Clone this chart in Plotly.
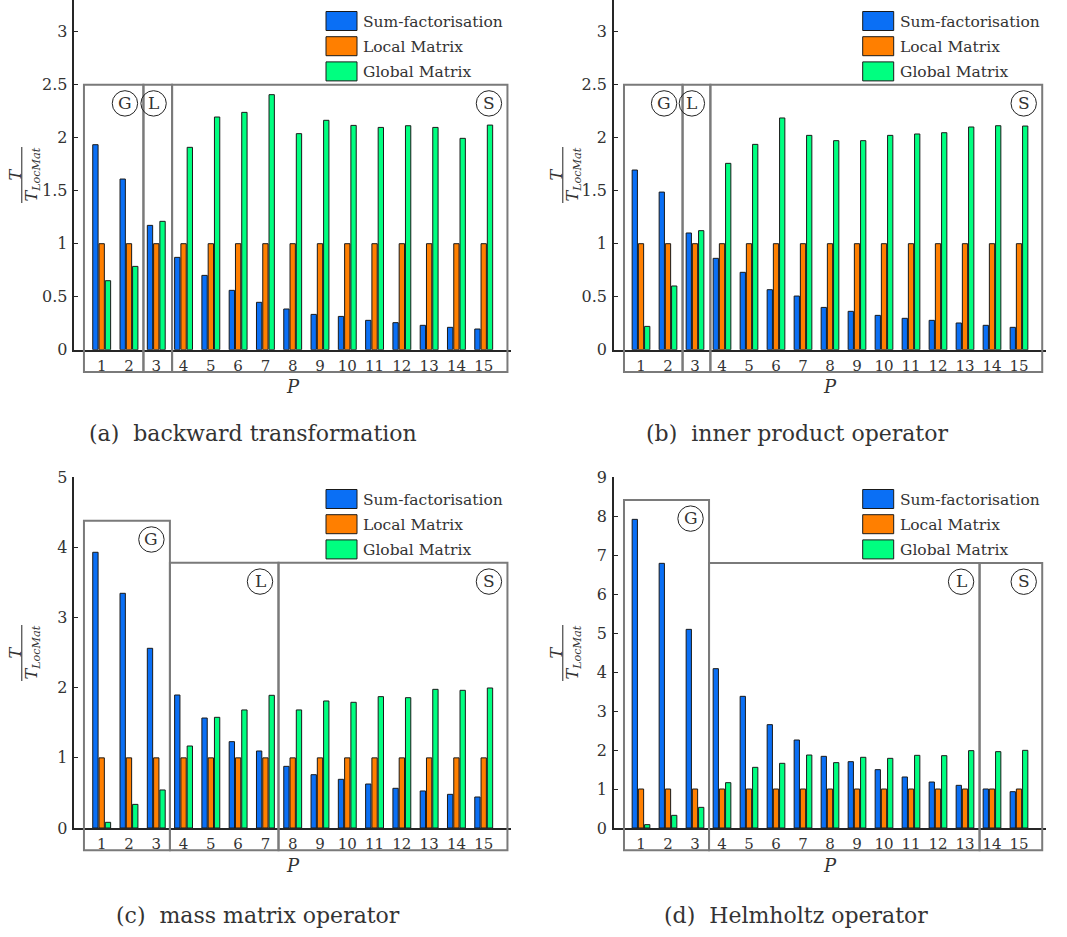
import plotly.graph_objects as go

W, H = 1067, 937

# ---------------- data ----------------
P = list(range(1, 16))
series_names = ["Sum-factorisation", "Local Matrix", "Global Matrix"]

a_sum = [1.934, 1.610, 1.173, 0.871, 0.701, 0.560, 0.447, 0.384, 0.333, 0.314, 0.277, 0.255, 0.230, 0.211, 0.195]
a_loc = [1, 1, 1, 1, 1, 1, 1, 1, 1, 1, 1, 1, 1, 1, 1]
a_glob = [0.651, 0.786, 1.211, 1.909, 2.195, 2.239, 2.406, 2.038, 2.164, 2.116, 2.097, 2.113, 2.097, 1.994, 2.119]

b_sum = [1.695, 1.487, 1.101, 0.862, 0.730, 0.566, 0.506, 0.399, 0.362, 0.324, 0.296, 0.277, 0.252, 0.230, 0.211]
b_loc = [1, 1, 1, 1, 1, 1, 1, 1, 1, 1, 1, 1, 1, 1, 1]
b_glob = [0.220, 0.601, 1.123, 1.758, 1.937, 2.186, 2.022, 1.972, 1.972, 2.022, 2.035, 2.047, 2.101, 2.113, 2.110]

c_sum = [3.931, 3.346, 2.562, 1.896, 1.568, 1.231, 1.098, 0.879, 0.760, 0.694, 0.627, 0.566, 0.528, 0.480, 0.442]
c_loc = [1, 1, 1, 1, 1, 1, 1, 1, 1, 1, 1, 1, 1, 1, 1]
c_glob = [0.081, 0.337, 0.542, 1.169, 1.578, 1.683, 1.892, 1.683, 1.811, 1.792, 1.873, 1.858, 1.977, 1.963, 1.996]

d_sum = [7.921, 6.792, 5.098, 4.089, 3.379, 2.652, 2.258, 1.839, 1.702, 1.497, 1.309, 1.180, 1.095, 1.001, 0.932]
d_loc = [1, 1, 1, 1, 1, 1, 1, 1, 1, 1, 1, 1, 1, 1, 1]
d_glob = [0.086, 0.325, 0.530, 1.163, 1.557, 1.660, 1.873, 1.677, 1.814, 1.788, 1.865, 1.856, 1.985, 1.959, 1.993]

captions = ["(a)  backward transformation", "(b)  inner product operator",
            "(c)  mass matrix operator", "(d)  Helmholtz operator"]

# region groups: (label, left edge, right edge, top value) in axis units
a_groups = [("G", 0.35, 2.53, 2.5), ("L", 2.53, 3.58, 2.5), ("S", 3.58, 15.87, 2.5)]
b_groups = [("G", 0.37, 2.54, 2.5), ("L", 2.54, 3.57, 2.5), ("S", 3.57, 15.86, 2.5)]
c_groups = [("G", 0.35, 3.50, 4.38), ("L", 3.50, 7.48, 3.78), ("S", 7.48, 15.87, 3.78)]
d_groups = [("G", 0.37, 3.52, 8.42), ("L", 3.52, 13.54, 6.80), ("S", 13.54, 15.86, 6.80)]

# ---------------- style ----------------
colors = ["#0a6ff5", "#ff7f00", "#00ff80"]
FONT = "DejaVu Serif"
TXT = "#333333"
BOXC = "#7a7a7a"

def px_x(x):
    return x / W

def px_y(y):
    return 1 - y / H

panels = [
    dict(data=(a_sum, a_loc, a_glob), groups=a_groups, xpx=(74.4, 511.0), ypx=(349.7, 0.0),
         yrange=(0, 3.299), dtick=0.5, legend_x=326, legend_y=11.5, frac_x=14.5, frac_y=175,
         plab_y=386, cap=(253, 433)),
    dict(data=(b_sum, b_loc, b_glob), groups=b_groups, xpx=(614.0, 1046.0), ypx=(349.7, 0.0),
         yrange=(0, 3.299), dtick=0.5, legend_x=862.7, legend_y=11.5, frac_x=555.5, frac_y=175,
         plab_y=386, cap=(797, 433)),
    dict(data=(c_sum, c_loc, c_glob), groups=c_groups, xpx=(74.4, 511.0), ypx=(828.0, 477.3),
         yrange=(0, 5), dtick=1, legend_x=326, legend_y=489.5, frac_x=14.5, frac_y=653,
         plab_y=865, cap=(258, 915)),
    dict(data=(d_sum, d_loc, d_glob), groups=d_groups, xpx=(614.0, 1046.0), ypx=(828.0, 477.3),
         yrange=(0, 9), dtick=1, legend_x=862.7, legend_y=489.5, frac_x=555.5, frac_y=653,
         plab_y=865, cap=(796, 915)),
]

fig = go.Figure()
shapes = []
annotations = []
layout_axes = {}

for i, pn in enumerate(panels):
    k = "" if i == 0 else str(i + 1)
    xa, ya = "x" + k, "y" + k
    for s in range(3):
        fig.add_trace(go.Bar(
            x=P, y=pn["data"][s], name=series_names[s], xaxis=xa, yaxis=ya,
            marker=dict(color=colors[s], line=dict(color="#1a1a1a", width=1)),
            showlegend=False, offsetgroup=str(s),
        ))
    x0p, x1p = pn["xpx"]
    yb, yt = pn["ypx"]
    layout_axes["xaxis" + k] = dict(
        domain=[px_x(x0p), px_x(x1p)], range=[0, 16], anchor=ya, automargin=False,
        tickmode="array", tickvals=P, ticktext=[str(p) for p in P],
        showline=True, linecolor="#262626", linewidth=2, ticks="",
        showgrid=False, zeroline=False, fixedrange=True,
        tickfont=dict(family=FONT, size=15, color=TXT), ticklabelstandoff=1,
    )
    layout_axes["yaxis" + k] = dict(
        domain=[px_y(yb), px_y(yt)], range=list(pn["yrange"]), anchor=xa, automargin=False,
        dtick=pn["dtick"], tick0=0, showline=True, linecolor="#262626", linewidth=1.5,
        ticks="inside", ticklen=4, tickcolor="#262626", tickwidth=1,
        showgrid=False, zeroline=False, fixedrange=True,
        tickfont=dict(family=FONT, size=16, color=TXT), ticklabelstandoff=2,
    )
    ymax = pn["yrange"][1]
    bottom_dom = -22.3 / (yb - yt)
    # region boxes with circled labels
    for lab, gl, gr, top in pn["groups"]:
        tdom = top / ymax
        shapes.append(dict(type="rect", xref=xa, yref=ya + " domain", x0=gl, x1=gr,
                           y0=bottom_dom, y1=tdom, line=dict(color=BOXC, width=2),
                           fillcolor="rgba(0,0,0,0)", layer="above"))
        shapes.append(dict(type="circle", xref=xa, yref=ya + " domain",
                           xsizemode="pixel", ysizemode="pixel", xanchor=gr, yanchor=tdom,
                           x0=-18.5 - 12.7, x1=-18.5 + 12.7, y0=-18.7 - 12.7, y1=-18.7 + 12.7,
                           line=dict(color="#222222", width=1), layer="above"))
        annotations.append(dict(text=lab, xref=xa, yref=ya + " domain", x=gr, y=tdom,
                                xshift=-18.5, yshift=-18.0, showarrow=False,
                                xanchor="center", yanchor="middle",
                                font=dict(family=FONT, size=17, color=TXT)))
    # legend (drawn manually to match large patches)
    for s in range(3):
        top = pn["legend_y"] + s * 25.2
        shapes.append(dict(type="rect", xref="paper", yref="paper",
                           x0=px_x(pn["legend_x"]), x1=px_x(pn["legend_x"] + 31),
                           y0=px_y(top + 19), y1=px_y(top),
                           fillcolor=colors[s], line=dict(color="#1a1a1a", width=1)))
        annotations.append(dict(text=series_names[s], xref="paper", yref="paper",
                                x=px_x(pn["legend_x"] + 35), y=px_y(top + 10),
                                xanchor="left", yanchor="middle", showarrow=False,
                                font=dict(family=FONT, size=15.5, color=TXT)))
    # y-axis label as a rotated fraction
    fx, fy = pn["frac_x"], pn["frac_y"]
    annotations.append(dict(text="<i>T</i>", xref="paper", yref="paper",
                            x=px_x(fx), y=px_y(fy), textangle=-90, showarrow=False,
                            xanchor="center", yanchor="middle",
                            font=dict(family=FONT, size=16, color=TXT)))
    shapes.append(dict(type="line", xref="paper", yref="paper",
                       x0=px_x(fx + 7.3), x1=px_x(fx + 7.3), y0=px_y(fy - 28), y1=px_y(fy + 28),
                       line=dict(color="#222222", width=1)))
    annotations.append(dict(text="<i>T</i><sub><i>LocMat</i></sub>", xref="paper", yref="paper",
                            x=px_x(fx + 17), y=px_y(fy), textangle=-90, showarrow=False,
                            xanchor="center", yanchor="middle",
                            font=dict(family=FONT, size=16, color=TXT)))
    # x-axis label
    annotations.append(dict(text="<i>P</i>", xref="paper", yref="paper",
                            x=px_x((x0p + x1p) / 2), y=px_y(pn["plab_y"]), showarrow=False,
                            xanchor="center", yanchor="middle",
                            font=dict(family=FONT, size=18, color=TXT)))
    # caption
    annotations.append(dict(text=captions[i], xref="paper", yref="paper",
                            x=px_x(pn["cap"][0]), y=px_y(pn["cap"][1]), showarrow=False,
                            xanchor="center", yanchor="middle",
                            font=dict(family=FONT, size=22, color=TXT)))

fig.update_layout(
    width=W, height=H, margin=dict(l=0, r=0, t=0, b=0, autoexpand=False),
    paper_bgcolor="white", plot_bgcolor="white",
    barmode="group", bargap=0.31, bargroupgap=0.15,
    shapes=shapes, annotations=annotations, showlegend=False,
    **layout_axes,
)

fig.write_html("out.html")
